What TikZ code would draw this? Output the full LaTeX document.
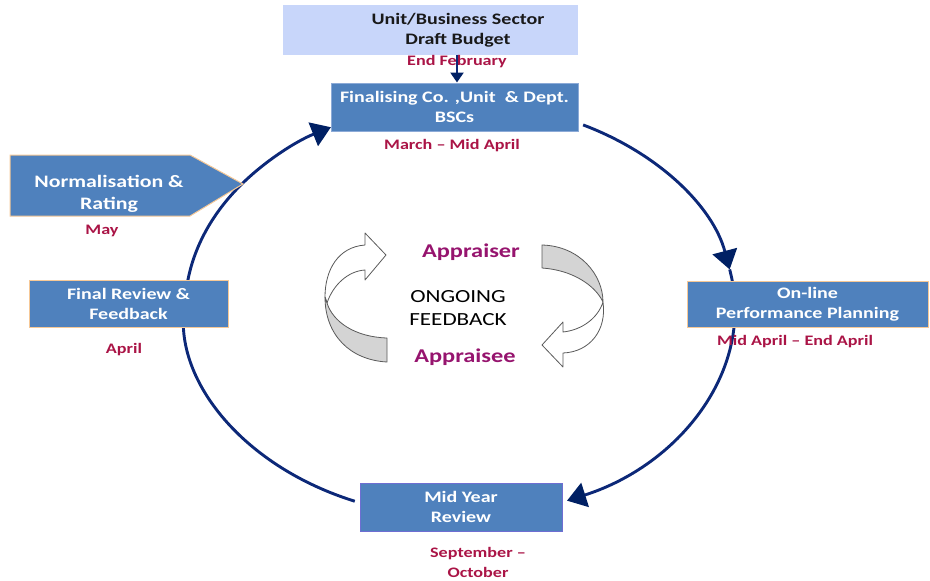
\documentclass[tikz,border=0pt]{standalone}
\usepackage{fontspec}
\setmainfont{Carlito}[FakeStretch=1.25]
\usetikzlibrary{arrows.meta,calc}

\definecolor{boxblue}{RGB}{79,129,189}
\definecolor{paleblue}{RGB}{200,214,250}
\definecolor{tanedge}{RGB}{246,200,150}
\definecolor{finedge}{RGB}{140,170,215}
\definecolor{midedge}{RGB}{110,110,210}
\definecolor{navy}{RGB}{12,40,120}
\definecolor{tipnavy}{RGB}{0,32,100}
\definecolor{datered}{RGB}{170,20,70}
\definecolor{rolepurple}{RGB}{150,20,110}
\definecolor{ribbongray}{RGB}{212,212,212}
\definecolor{ribbonedge}{RGB}{90,90,90}

\begin{document}
\begin{tikzpicture}[x=1pt,y=1pt,
  stage/.style={draw=tanedge, line width=1pt, fill=boxblue, text=white,
    font=\fontsize{16}{20}\selectfont\bfseries, align=center, inner sep=0pt},
  datelabel/.style={text=datered, font=\fontsize{14.5}{20}\selectfont\bfseries,
    align=center, inner sep=0pt},
  loopline/.style={draw=navy, line width=2.9pt},
  tipped/.style={-{Triangle[length=19pt,width=25pt,color=tipnavy]}},
  ring/.style={x radius=275pt, y radius=207pt},
  ribbon/.style={draw=ribbonedge, line width=0.8pt, line join=round}
]
\useasboundingbox (0,0) rectangle (930,-581);

% ---- review cycle (ellipse split between the stages) ----
\coordinate (C) at (460,-310);
\coordinate (eNrm)  at ($(C)+(142.2:275pt and 207pt)$);
\coordinate (eFinR) at ($(C)+(63.4:275pt and 207pt)$);
\coordinate (eOnTip) at ($(C)+(11.3:275pt and 207pt)$);
\coordinate (eOnB)  at ($(C)+(-4.7:275pt and 207pt)$);
\coordinate (eMidL) at ($(C)+(-112.5:275pt and 207pt)$);
\coordinate (eFrT)  at ($(C)+(171.7:275pt and 207pt)$);

\draw[loopline, tipped] (eNrm) arc[ring, start angle=142.2, end angle=118];
\draw[loopline, tipped] (eFinR) arc[ring, start angle=63.4, end angle=11.3];
\draw[loopline] (eOnTip) arc[ring, start angle=11.3, end angle=8];
\draw[loopline, tipped] (eOnB) arc[ring, start angle=-4.7, end angle=-67.1];
\draw[loopline, tipped] (eMidL) arc[ring, start angle=-112.5, end angle=-185];
\draw[loopline] (eFrT) arc[ring, start angle=171.7, end angle=142.2];

% ---- budget input ----
\node[fill=paleblue, minimum width=295pt, minimum height=50pt, inner sep=0pt]
  (budgetbox) at (430.5,-30) {};
\node[text={rgb,255:red,25;green,25;blue,25}, font=\fontsize{16}{20}\selectfont\bfseries,
  align=center, inner sep=0pt] (budget) at (458,-30) {Unit/Business Sector\\Draft Budget};
\node[datelabel] (febd) at (457,-62) {End February};

% ---- stages ----
\node[stage, draw=finedge, minimum width=247pt, minimum height=48pt]
  (fin) at (454.5,-107) {Finalising Co. ,Unit\ \ \& Dept.\\BSCs};
\node[datelabel] (marchd) at (452,-146) {March -- Mid April};

\draw[navy, line width=2.4pt, -{Triangle[length=10pt,width=13pt,color=tipnavy]}]
  ([xshift=2.5pt]fin.north |- budgetbox.south) -- ([xshift=2.5pt]fin.north);

\draw[fill=boxblue, draw=tanedge, line width=1pt]
  (10,-155) -- (190,-155) -- (243,-184) -- (190,-216) -- (10,-216) -- cycle;
\node[text=white, font=\fontsize{17.5}{22}\selectfont\bfseries, align=center, inner sep=0pt]
  (nrm) at (109,-194) {Normalisation \&\\Rating};
\node[datelabel] (mayd) at (102,-231) {May};

\node[stage, minimum width=199pt, minimum height=47pt]
  (frev) at (128.5,-303.5) {Final Review \&\\Feedback};
\node[datelabel] (aprd) at (124,-350) {April};

\node[stage, minimum width=241pt, minimum height=46pt]
  (onl) at (807.5,-304) {On-line\\Performance Planning};
\node[datelabel] (onld) at (795,-342) {Mid April -- End April};

\node[stage, draw=midedge, minimum width=202pt, minimum height=48pt]
  (midy) at (461,-507) {Mid Year\\Review};
\node[datelabel] (sepd) at (478,-562) {September --\\October};

% ---- ongoing feedback ----
\node[text=rolepurple, font=\fontsize{19.5}{24}\selectfont\bfseries, inner sep=0pt]
  (appraiser) at (471,-252) {Appraiser};
\node[text=black, font=\fontsize{18.5}{23}\selectfont, align=center, inner sep=0pt]
  (ongoing) at (458,-308) {ONGOING\\FEEDBACK};
\node[text=rolepurple, font=\fontsize{19.5}{24}\selectfont\bfseries, inner sep=0pt]
  (appraisee) at (465,-357) {Appraisee};

% left twisted ribbon arrow (pointing right, up top)
\draw[ribbon, fill=white]
  (365,-245) .. controls (338,-247) and (325,-270) .. (325,-297) -- (327,-303)
  .. controls (333,-285) and (348,-271) .. (365,-270)
  -- (365,-280) -- (386,-255) -- (365,-233) -- cycle;
\draw[ribbon, fill=ribbongray]
  (325,-297) .. controls (325,-335) and (350,-360) .. (387,-362) -- (387,-338)
  .. controls (355,-337) and (333,-322) .. (327,-303) -- cycle;

% right twisted ribbon arrow (pointing left, down low)
\draw[ribbon, fill=ribbongray]
  (542,-245) .. controls (580,-246) and (603,-275) .. (603,-302)
  .. controls (595,-285) and (572,-270) .. (542,-268) -- cycle;
\draw[ribbon, fill=white]
  (603,-302) .. controls (607,-330) and (590,-352) .. (563,-353)
  -- (563,-367) -- (542,-345) -- (563,-322) -- (563,-332)
  .. controls (582,-330) and (598,-318) .. (603,-302) -- cycle;
\end{tikzpicture}
\end{document}
